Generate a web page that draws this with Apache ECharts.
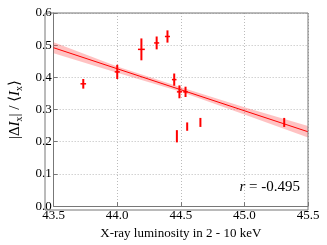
<!DOCTYPE html>
<html><head><meta charset="utf-8">
<script src="https://cdn.jsdelivr.net/npm/echarts@6/dist/echarts.min.js"></script>
<style>html,body{margin:0;padding:0;background:#fff}#c{width:327px;height:245px}</style>
</head><body><div id="c"></div>
<script>
// Data
const xVals = [43.733, 44.0, 44.19, 44.31, 44.395, 44.448, 44.489, 44.537, 44.469, 44.55, 44.654, 45.313];
const yVals = [0.380, 0.417, 0.487, 0.507, 0.527, 0.393, 0.355, 0.355, 0.217, 0.247, 0.260, 0.260];
const yErr  = [0.015, 0.022, 0.034, 0.020, 0.019, 0.019, 0.020, 0.016, 0.019, 0.013, 0.014, 0.014];
const xErr  = [0.022, 0.020, 0.027, 0.020, 0.020, 0.018, 0.020, 0.018, 0, 0, 0, 0];
const fitX = [43.5, 45.5];
const fitY = [0.492, 0.231];
const bandX = [43.5, 44.0, 44.5, 45.0, 45.5];
const bandLo = [0.475, 0.414, 0.355, 0.285, 0.213];
const bandHi = [0.509, 0.434, 0.369, 0.307, 0.249];
const xTicks = [43.5, 44.0, 44.5, 45.0, 45.5];
const yTicks = [0.0, 0.1, 0.2, 0.3, 0.4, 0.5, 0.6];
const rText = 'r = -0.495';

const serif = '"Liberation Serif", "DejaVu Serif", serif';
const chart = echarts.init(document.getElementById('c'));
const pts = xVals.map((x, i) => [x, yVals[i], yErr[i], xErr[i]]);
const bandPoly = bandX.map((x, i) => [x, bandHi[i]]).concat(bandX.map((x, i) => [x, bandLo[i]]).reverse());

chart.setOption({
  animation: false,
  grid: {left: 45, right: 19, top: 13, bottom: 35},
  xAxis: {
    type: 'value', min: 43.5, max: 45.5, interval: 0.5,
    name: 'X-ray luminosity in 2 - 10 keV', nameLocation: 'middle', nameGap: 20,
    nameTextStyle: {fontFamily: serif, fontSize: 13, color: '#000'},
    axisLine: {show: true, onZero: false, lineStyle: {color: '#777', width: 1}},
    axisTick: {show: true, inside: true, length: 4, lineStyle: {color: '#777'}},
    axisLabel: {fontFamily: serif, fontSize: 13, color: '#000', margin: 3,
      formatter: v => xTicks.includes(+v.toFixed(1)) ? v.toFixed(1) : ''},
    splitLine: {show: true, lineStyle: {color: '#bbb', type: [1, 2], width: 1}}
  },
  yAxis: {
    type: 'value', min: 0, max: 0.6, interval: 0.1,
    name: '{t|\u007C\u0394}{i|I}{s|x}{t|\u007C / \u27E8}{i|I}{s|x}{t|\u27E9}',
    nameLocation: 'middle', nameGap: 22, nameRotate: 90,
    nameTextStyle: {fontFamily: serif, fontSize: 15, color: '#000',
      rich: {
        t: {fontFamily: serif, fontSize: 15, color: '#000', lineHeight: 18, verticalAlign: 'middle'},
        i: {fontFamily: serif, fontSize: 15, fontStyle: 'italic', color: '#000', lineHeight: 18, verticalAlign: 'middle'},
        s: {fontFamily: serif, fontSize: 10, color: '#000', lineHeight: 18, verticalAlign: 'bottom', padding: [6, 0, 0, 0]}
      }},
    axisLine: {show: true, lineStyle: {color: '#777', width: 1}},
    axisTick: {show: true, inside: true, length: 4, lineStyle: {color: '#777'}},
    axisLabel: {fontFamily: serif, fontSize: 13, color: '#000', margin: 2,
      formatter: v => yTicks.includes(+v.toFixed(1)) ? v.toFixed(1) : ''},
    splitLine: {show: true, lineStyle: {color: '#bbb', type: [1, 2], width: 1}}
  },
  graphic: [
    {type: 'rect', shape: {x: 45, y: 13, width: 263, height: 197}, style: {fill: 'none', stroke: '#777', lineWidth: 1}, silent: true, z: 10},
    {type: 'text', right: 27, top: 180, style: {
      text: '{i|r}{t| = -0.495}', fill: '#000',
      rich: {i: {fontFamily: serif, fontSize: 15, fontStyle: 'italic'}, t: {fontFamily: serif, fontSize: 15}}
    }, z: 11}
  ],
  series: [
    {
      type: 'custom', silent: true, z: 1,
      data: [0],
      renderItem: (params, api) => {
        const points = bandPoly.map(p => api.coord(p));
        return {type: 'polygon', shape: {points}, style: {fill: 'rgba(255,80,80,0.35)', stroke: 'none'}};
      }
    },
    {
      type: 'line', data: fitX.map((x, i) => [x, fitY[i]]), symbol: 'none', z: 2,
      lineStyle: {color: '#ff0000', width: 1}, silent: true
    },
    {
      type: 'custom', z: 3, data: pts,
      renderItem: (params, api) => {
        const x = api.value(0), y = api.value(1), ey = api.value(2), ex = api.value(3);
        const top = api.coord([x, y + ey]), bot = api.coord([x, y - ey]);
        const children = [{type: 'line', shape: {x1: top[0], y1: top[1], x2: bot[0], y2: bot[1]}, style: {stroke: '#ff0000', lineWidth: 2}}];
        if (ex > 0) {
          const l = api.coord([x - ex, y]), r = api.coord([x + ex, y]);
          children.push({type: 'line', shape: {x1: l[0], y1: l[1], x2: r[0], y2: r[1]}, style: {stroke: '#ff0000', lineWidth: 1.5}});
        }
        return {type: 'group', children};
      }
    }
  ]
});
</script></body></html>
